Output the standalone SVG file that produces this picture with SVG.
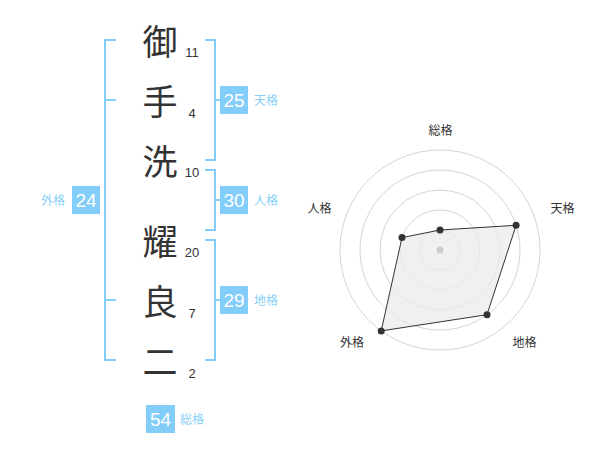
<svg xmlns="http://www.w3.org/2000/svg" width="600" height="470" viewBox="0 0 600 470">
<style>
.kanji{font-family:"Noto Sans CJK JP","Noto Sans CJK SC",sans-serif;font-size:35px;fill:#333;text-anchor:middle}
.num{font-family:"Liberation Sans",Arial,sans-serif;font-size:13px;fill:#333;text-anchor:middle}
.br{fill:none;stroke:#82cdfa;stroke-width:2}
.box{fill:#82cdfa}
.bt{font-family:"Liberation Sans",Arial,sans-serif;font-size:19px;fill:#fff;text-anchor:middle}
.lb{font-family:"Noto Sans CJK JP",sans-serif;font-size:12px;fill:#8ad0f8}
.rl{font-family:"Noto Sans CJK JP",sans-serif;font-size:12px;fill:#333;text-anchor:middle}
.ring{fill:none;stroke:#d4d4d4;stroke-width:1}
.dot{fill:#333}
</style>
<rect width="600" height="470" fill="#fff"/>
<g id="chars">
<text class="kanji" x="160" y="55">御</text>
<text class="kanji" x="160" y="115">手</text>
<text class="kanji" x="160" y="175">洗</text>
<text class="kanji" x="160" y="255">耀</text>
<text class="kanji" x="160" y="315">良</text>
<text class="kanji" x="160" y="375">二</text>
</g>
<g id="strokes">
<text class="num" x="192" y="57">11</text>
<text class="num" x="192" y="118">4</text>
<text class="num" x="192" y="177">10</text>
<text class="num" x="192" y="257">20</text>
<text class="num" x="192" y="318">7</text>
<text class="num" x="192" y="378">2</text>
</g>
<g id="connectors">
<path class="br" d="M116,40 H105 V360 H116 M105,100 H116 M105,300 H116"/>
<path class="br" d="M205,40 H215 V160 H205 M215,100 H220"/>
<path class="br" d="M205,170 H215 V230 H205 M215,200 H220"/>
<path class="br" d="M205,240 H215 V360 H205 M215,300 H220"/>
</g>
<g id="tenkaku">
<rect class="box" x="220" y="86" width="28" height="28"/>
<text class="bt" x="234" y="107">25</text>
<text class="lb" x="254" y="105">天格</text>
</g>
<g id="jinkaku">
<rect class="box" x="220" y="186" width="28" height="28"/>
<text class="bt" x="234" y="207">30</text>
<text class="lb" x="254" y="205">人格</text>
</g>
<g id="chikaku">
<rect class="box" x="220" y="286" width="28" height="28"/>
<text class="bt" x="234" y="307">29</text>
<text class="lb" x="254" y="305">地格</text>
</g>
<g id="gaikaku">
<rect class="box" x="72" y="186" width="28" height="28"/>
<text class="bt" x="86" y="207">24</text>
<text class="lb" x="41" y="205">外格</text>
</g>
<g id="soukaku">
<rect class="box" x="146" y="405" width="29" height="28"/>
<text class="bt" x="160.5" y="426">54</text>
<text class="lb" x="180" y="424">総格</text>
</g>
<g id="radar">
<circle class="ring" cx="440" cy="250" r="20"/>
<circle class="ring" cx="440" cy="250" r="40"/>
<circle class="ring" cx="440" cy="250" r="60"/>
<circle class="ring" cx="440" cy="250" r="80"/>
<circle class="ring" cx="440" cy="250" r="100"/>
<polygon points="440,230 516.1,225.3 487,314.7 381.2,330.9 402,237.6" fill="#ebebeb" fill-opacity="0.75" stroke="#333" stroke-width="1"/>
<circle cx="440" cy="250" r="3.5" fill="#ccc"/>
<circle class="dot" cx="440" cy="230" r="3.5"/>
<circle class="dot" cx="516.1" cy="225.3" r="3.5"/>
<circle class="dot" cx="487" cy="314.7" r="3.5"/>
<circle class="dot" cx="381.2" cy="330.9" r="3.5"/>
<circle class="dot" cx="402" cy="237.6" r="3.5"/>
<text class="rl" x="440.5" y="135">総格</text>
<text class="rl" x="562.5" y="213">天格</text>
<text class="rl" x="319.5" y="213">人格</text>
<text class="rl" x="524.5" y="347">地格</text>
<text class="rl" x="352" y="347">外格</text>
</g>
</svg>
